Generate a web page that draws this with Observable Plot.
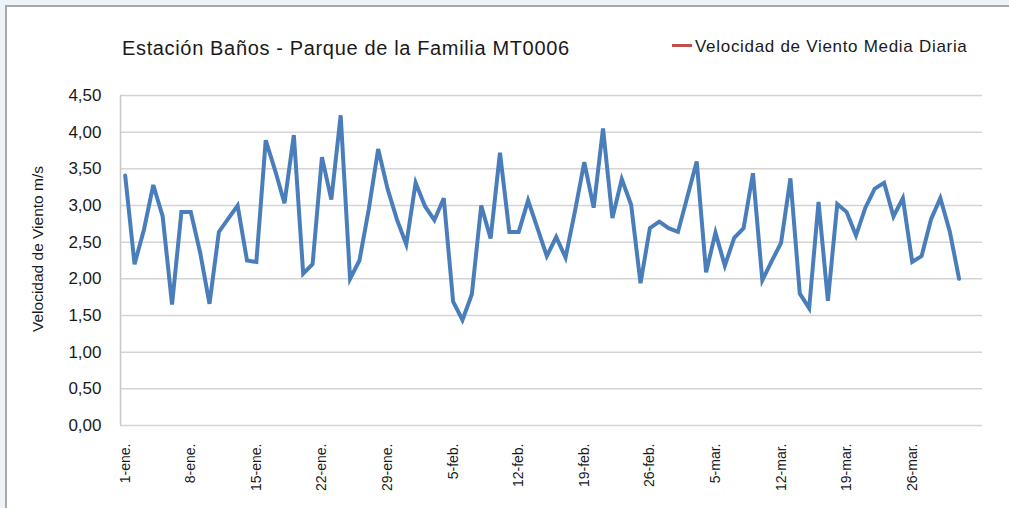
<!DOCTYPE html>
<html><head><meta charset="utf-8">
<script src="https://cdn.jsdelivr.net/npm/d3@7"></script>
<script src="https://cdn.jsdelivr.net/npm/@observablehq/plot@0.6"></script>
<style>
html,body{margin:0;padding:0;background:#eef3f8;}
#wrap{position:relative;width:1009px;height:508px;overflow:hidden;font-family:"Liberation Sans",Arial,sans-serif;color:#1a1a1a;}
#panel{position:absolute;left:5px;top:5px;width:1010px;height:510px;background:#fff;border-left:2px solid #a8a8a8;border-top:2px solid #a8a8a8;}
#title{position:absolute;left:122px;top:38px;font-size:20px;line-height:1;letter-spacing:0.65px;white-space:nowrap;}
#legend{position:absolute;left:672px;top:38px;font-size:17px;line-height:1;letter-spacing:0.7px;white-space:nowrap;}
#legend .sw{display:inline-block;width:20px;height:3px;background:#c0504d;vertical-align:middle;margin-right:3px;position:relative;top:-2px;}
#ylab{position:absolute;left:38px;top:249px;font-size:15.5px;white-space:nowrap;transform:translate(-50%,-50%) rotate(-90deg);}
#chart{position:absolute;left:0;top:70px;}
</style></head>
<body>
<div id="wrap">
  <div id="panel"></div>
  <div id="title"></div>
  <div id="legend"><span class="sw"></span><span id="legtext"></span></div>
  <div id="ylab"></div>
  <div id="chart"></div>
</div>
<script>
const titleText = "Estación Baños - Parque de la Familia MT0006";
const seriesName = "Velocidad de Viento Media Diaria";
const yLabel = "Velocidad de Viento m/s";

// daily mean wind speed, 1-ene. .. 31-mar. (one value per day)
const windSpeed = [
  3.41,2.20,2.67,3.28,2.85,1.65,2.91,2.91,2.36,1.66,
  2.64,2.82,3.00,2.25,2.23,3.89,3.48,3.03,3.96,2.07,
  2.20,3.66,3.08,4.23,2.00,2.25,2.95,3.77,3.23,2.81,
  2.47,3.31,2.99,2.80,3.10,1.69,1.44,1.79,3.00,2.55,
  3.72,2.64,2.64,3.07,2.69,2.31,2.57,2.29,2.92,3.59,
  2.97,4.05,2.83,3.36,3.01,1.94,2.69,2.78,2.69,2.64,
  3.12,3.60,2.09,2.63,2.18,2.56,2.69,3.44,1.98,2.24,
  2.49,3.37,1.80,1.60,3.05,1.70,3.02,2.91,2.59,2.97,
  3.23,3.31,2.85,3.10,2.23,2.31,2.81,3.10,2.65,2.00
];
// category axis: 92 day slots (1-ene. .. 2-abr.)
const dayCount = 92;
const tickDays = [0,7,14,21,28,35,42,49,56,63,70,77,84];
const tickLabels = ["1-ene.","8-ene.","15-ene.","22-ene.","29-ene.","5-feb.","12-feb.","19-feb.","26-feb.","5-mar.","12-mar.","19-mar.","26-mar."];
const yTicks = [0,0.5,1,1.5,2,2.5,3,3.5,4,4.5];

document.getElementById("title").textContent = titleText;
document.getElementById("legtext").textContent = seriesName;
document.getElementById("ylab").textContent = yLabel;

const data = windSpeed.map((v, i) => ({day: i, v}));
const xDomain = [-0.5, dayCount - 0.5];
const fmt = d => d3.format(".2f")(d).replace(".", ",");

const chart = Plot.plot({
  width: 1009,
  height: 438,
  marginTop: 25,
  marginBottom: 83,
  marginLeft: 120,
  marginRight: 27,
  style: {fontFamily: "'Liberation Sans', Arial, sans-serif", background: "transparent", color: "#1a1a1a"},
  x: {domain: xDomain},
  y: {domain: [0, 4.5]},
  marks: [
    Plot.gridY(yTicks, {stroke: "#d4d4d4", strokeOpacity: 1, strokeWidth: 1.5}),
    Plot.ruleX([xDomain[0]], {stroke: "#c8c8c8", strokeWidth: 1.5}),
    Plot.axisY(yTicks, {tickSize: 0, tickPadding: 19, tickFormat: fmt, fontSize: 17, label: null}),
    Plot.axisX(tickDays, {tickSize: 0, tickPadding: 18, tickRotate: -90, fontSize: 14,
      tickFormat: (d, i) => tickLabels[tickDays.indexOf(d)], label: null}),
    Plot.line(data, {x: "day", y: "v", stroke: "#4a7ebb", strokeWidth: 4, strokeLinejoin: "miter", strokeMiterlimit: 4})
  ]
});
document.getElementById("chart").appendChild(chart);
</script>
</body></html>
